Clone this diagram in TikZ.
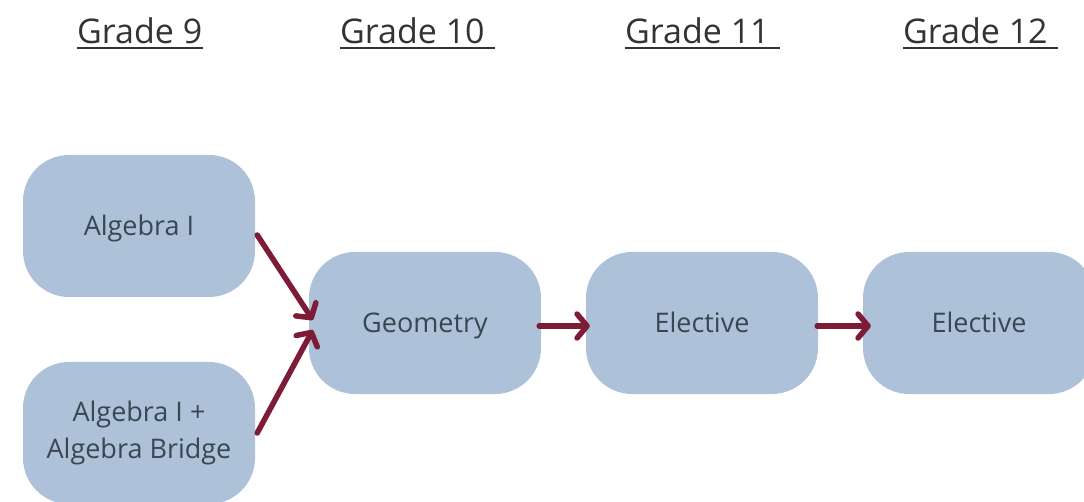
\documentclass[tikz,border=0pt]{standalone}
\usepackage{fontspec}
\setmainfont{Open Sans}
\usetikzlibrary{arrows.meta,calc}
\definecolor{boxblue}{HTML}{ADC2D9}
\definecolor{arrowred}{HTML}{7E1B36}
\definecolor{txt}{HTML}{3A4652}
\definecolor{headtxt}{HTML}{333333}
\tikzset{
  course/.style={rectangle, rounded corners=46pt, fill=boxblue, draw=none,
    minimum width=232pt, minimum height=142pt, inner sep=0pt, text=txt,
    font=\fontsize{27}{37}\selectfont, align=center,
    text height=22pt, text depth=2pt},
  course2/.style={course, text height=, text depth=},
  head/.style={inner sep=0pt, anchor=base west, text=headtxt,
    font=\fontsize{34}{40}\selectfont},
  uline/.style={draw=headtxt, line width=2.4pt},
  flow/.style={draw=arrowred, line width=5.5pt, line cap=round, line join=round,
    -{Straight Barb[length=10pt,width=24pt,line cap=round,line join=round]}}
}
\begin{document}
\begin{tikzpicture}[x=1pt,y=-1pt]
\useasboundingbox (0,0) rectangle (1084,502);
% headers
\node[head] (g9) at (77,44) {Grade 9};
\node[head] (g10) at (340,44) {Grade 10};
\node[head] (g11) at (625,44) {Grade 11};
\node[head] (g12) at (903,44) {Grade 12};
\coordinate (u9a) at (77,48);  \coordinate (u9b) at (203,48);
\coordinate (u10a) at (340,48); \coordinate (u10b) at (495,48);
\coordinate (u11a) at (625,48); \coordinate (u11b) at (780,48);
\coordinate (u12a) at (903,48); \coordinate (u12b) at (1058,48);
\draw[uline] (u9a) -- (u9b);
\draw[uline] (u10a) -- (u10b);
\draw[uline] (u11a) -- (u11b);
\draw[uline] (u12a) -- (u12b);
% boxes
\node[course] (alg) at (139,226) {Algebra I};
\node[course2] (bridge) at (139,433) {Algebra I +\\Algebra Bridge};
\node[course] (geo) at (425,323) {Geometry};
\node[course] (el1) at (702,323) {Elective};
\node[course] (el2) at (979,323) {Elective};
% arrows
\draw[flow] ($(alg.east)+(2,9)$) -- ($(geo.west)+(4,-3)$);
\draw[flow] ($(bridge.east)+(2,0)$) -- ($(geo.west)+(4,7)$);
\draw[flow] ($(geo.east)+(-2,3)$) -- ($(el1.west)+(4,3)$);
\draw[flow] ($(el1.east)+(-1,3)$) -- ($(el2.west)+(8,3)$);
\end{tikzpicture}
\end{document}
